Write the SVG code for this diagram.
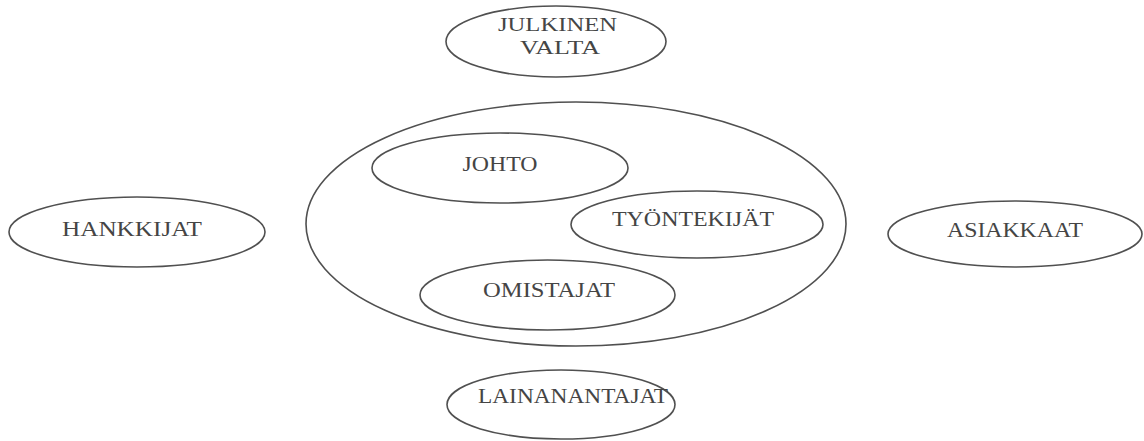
<svg xmlns="http://www.w3.org/2000/svg" width="1144" height="441" viewBox="0 0 1144 441">
<style>
.n{fill:none;stroke:#505050;stroke-width:1.6}
.t{font-family:"Liberation Serif","Times New Roman",serif;font-size:20px;fill:#454545;text-anchor:middle}
.s{font-size:18px}
</style>
<rect width="1144" height="441" fill="#fff"/>
<g id="connectors"></g>
<g id="julkinen-valta">
<ellipse class="n" cx="556" cy="41.5" rx="110" ry="35.5"/>
<text class="t s" x="557.5" y="31" textLength="119" lengthAdjust="spacingAndGlyphs">JULKINEN</text>
<text class="t s" x="560" y="54" textLength="80" lengthAdjust="spacingAndGlyphs">VALTA</text>
</g>
<g id="yritys">
<ellipse class="n" cx="576" cy="224" rx="270" ry="122"/>
</g>
<g id="johto">
<ellipse class="n" cx="500" cy="168" rx="128" ry="35"/>
<text class="t" x="500" y="171" textLength="75" lengthAdjust="spacingAndGlyphs">JOHTO</text>
</g>
<g id="tyontekijat">
<ellipse class="n" cx="697" cy="224.5" rx="126" ry="33.5"/>
<text class="t" x="693" y="226" textLength="162" lengthAdjust="spacingAndGlyphs">TYÖNTEKIJÄT</text>
</g>
<g id="omistajat">
<ellipse class="n" cx="547.5" cy="295" rx="127.5" ry="35"/>
<text class="t" x="549" y="297" textLength="132" lengthAdjust="spacingAndGlyphs">OMISTAJAT</text>
</g>
<g id="hankkijat">
<ellipse class="n" cx="137" cy="232" rx="128" ry="35"/>
<text class="t" x="132" y="236" textLength="140" lengthAdjust="spacingAndGlyphs">HANKKIJAT</text>
</g>
<g id="asiakkaat">
<ellipse class="n" cx="1015" cy="234" rx="127" ry="33"/>
<text class="t" x="1015" y="237" textLength="136" lengthAdjust="spacingAndGlyphs">ASIAKKAAT</text>
</g>
<g id="lainanantajat">
<ellipse class="n" cx="561" cy="404.5" rx="114" ry="34.5"/>
<text class="t" x="573" y="403" textLength="190" lengthAdjust="spacingAndGlyphs">LAINANANTAJAT</text>
</g>
</svg>
